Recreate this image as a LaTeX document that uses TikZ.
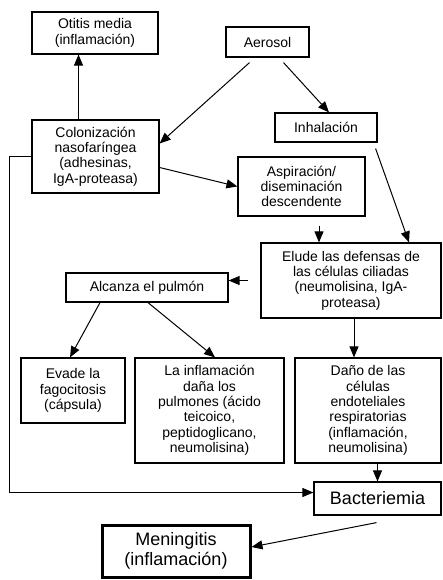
\documentclass[tikz,border=0pt]{standalone}
\usepackage{fontspec}
\setmainfont{Liberation Sans}
\usepackage{tikz}
\usetikzlibrary{arrows.meta}

\begin{document}
\begin{tikzpicture}[x=1pt,y=-1pt,
        box/.style={draw,line width=1.2pt,align=center,inner sep=2pt,
            font=\fontsize{14}{15.3}\selectfont},
        bigbox/.style={box,font=\fontsize{18}{20}\selectfont},
        flow/.style={line width=1pt,-{Triangle[length=11pt,width=9pt]}}]
        \useasboundingbox (0,0) rectangle (442,580);
        % boxes
        \node[box,minimum width=126pt,minimum height=42pt] (otitis) at (95,33) {Otitis media\\(inflamación)};
        \node[box,minimum width=83pt,minimum height=30pt] (aerosol) at (267.5,42) {Aerosol};
        \node[box,minimum width=102pt,minimum height=29pt] (inhal) at (326,127.5) {Inhalación};
        \node[box,minimum width=127pt,minimum height=73pt] (colon) at (95.5,156.5) {Colonización\\nasofaríngea\\(adhesinas,\\IgA-proteasa)};
        \node[box,minimum width=127pt,minimum height=59pt] (aspir) at (301.5,186.5) {Aspiración/\\diseminación\\descendente};
        \node[box,minimum width=180pt,minimum height=75pt] (elude) at (351,280.5) {Elude las defensas de\\las células ciliadas\\(neumolisina, IgA-\\proteasa)};
        \node[box,minimum width=162pt,minimum height=29pt] (alcanza) at (147,287.5) {Alcanza el pulmón};
        \node[box,minimum width=104pt,minimum height=65pt] (evade) at (73,390.5) {Evade la\\fagocitosis\\(cápsula)};
        \node[box,minimum width=149pt,minimum height=105pt] (inflam) at (209.5,410.5) {La inflamación\\daña los\\pulmones (ácido\\teicoico,\\peptidoglicano,\\neumolisina)};
        \node[box,minimum width=146pt,minimum height=105pt] (dano) at (368,410.5) {Daño de las\\células\\endoteliales\\respiratorias\\(inflamación,\\neumolisina)};
        \node[bigbox,minimum width=127pt,minimum height=33pt] (bact) at (377.5,498.5) {Bacteriemia};
        \node[bigbox,line width=3pt,minimum width=148pt,minimum height=52pt] (mening) at (176,551) {Meningitis\\(inflamación)};
        % arrows
        \draw[flow] ([xshift=-17pt]colon.north) -- ([xshift=-17pt]colon.north |- otitis.south);
        \draw[flow] ([xshift=-18pt,yshift=-5pt]aerosol.south) -- ([yshift=13pt]colon.east);
        \draw[flow] ([xshift=16pt,yshift=-5pt]aerosol.south) -- ([xshift=3pt]inhal.north);
        \draw[flow] ([yshift=-11pt]colon.east) -- (aspir.west);
        \draw[flow] ([xshift=-2pt,yshift=-6pt]inhal.south east) -- ([xshift=58pt]elude.north);
        \draw[flow] ([xshift=17.5pt,yshift=-9pt]aspir.south) -- ([xshift=17.5pt]aspir.south |- elude.north);
        \draw[flow] ([xshift=-12pt]elude.west) -- (elude.west -| alcanza.east);
        \draw[flow] ([xshift=-47pt]alcanza.south) -- ([xshift=-3pt]evade.north);
        \draw[flow] ([xshift=1pt]alcanza.south) -- ([xshift=5.5pt]inflam.north);
        \draw[flow] ([xshift=3pt]elude.south) -- ([xshift=3pt]elude.south |- dano.north);
        \draw[flow] (dano.south -| bact.north) -- (bact.north);
        \draw[flow] (colon.west) -- ++(-22,0) |- ([yshift=6pt]bact.west);
        \draw[flow] ([xshift=-1pt,yshift=-7pt]bact.south) -- ([yshift=4pt]mening.east);
    \end{tikzpicture}
\end{document}
